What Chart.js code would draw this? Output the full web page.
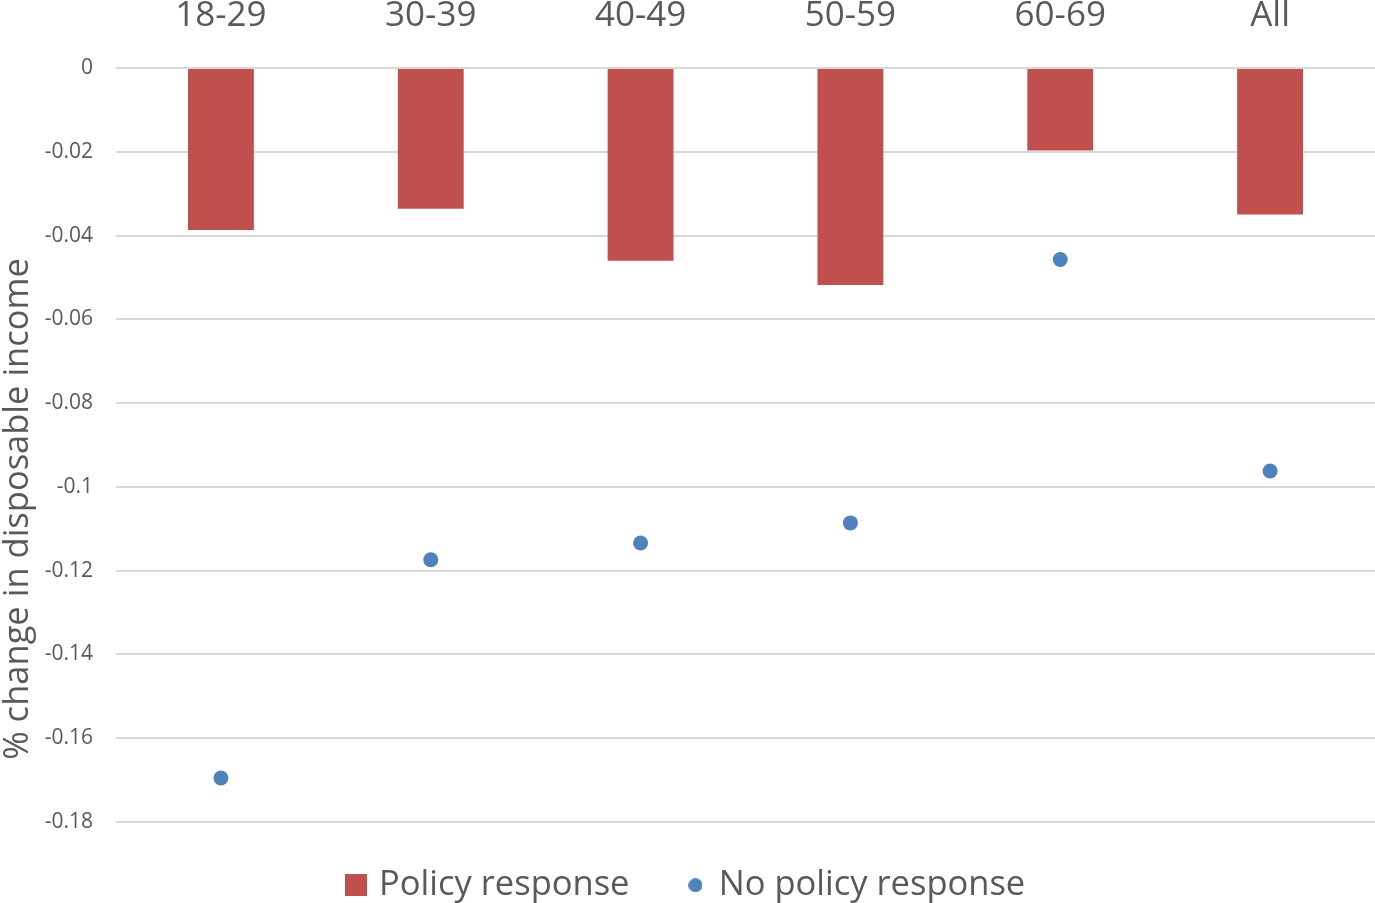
<!DOCTYPE html>
<html>
<head>
<meta charset="utf-8">
<script src="https://cdn.jsdelivr.net/npm/chart.js@4.4.1/dist/chart.umd.min.js"></script>
<style>
  html, body { margin: 0; padding: 0; background: #ffffff; overflow: hidden; }
  #wrap { width: 1375px; height: 903px; }
</style>
</head>
<body>
<div id="wrap"><canvas id="chart" width="1375" height="903"></canvas></div>
<script>
// Age groups and change in disposable income, as fractions
const ageGroups = ['18-29', '30-39', '40-49', '50-59', '60-69', 'All'];
const policyResponse = [-0.0387, -0.0336, -0.0460, -0.0518, -0.0197, -0.0350];
const noPolicyResponse = [-0.1695, -0.1174, -0.1134, -0.1086, -0.0457, -0.0962];
const seriesNames = ['Policy response', 'No policy response'];
const axisTitle = '% change in disposable income';

const TEXT = '#595959';
const FONT = "'Open Sans', 'DejaVu Sans', sans-serif";
const RED = '#C0504D';
const BLUE = '#4F81BD';

// small legend markers: a square for the bars, a dot for the points
function marker(kind, size, color) {
  const c = document.createElement('canvas');
  c.width = size; c.height = size;
  const g = c.getContext('2d');
  g.fillStyle = color;
  if (kind === 'rect') {
    g.fillRect(0, 0, size, size);
  } else {
    g.beginPath();
    g.arc(size / 2, size / 2, size / 2, 0, Math.PI * 2);
    g.fill();
  }
  return c;
}
const squareMarker = marker('rect', 22, RED);
const dotMarker = marker('circle', 14, BLUE);

// rotated y-axis title, placed a bit below the plot's middle
const sideTitle = {
  id: 'sideTitle',
  afterDraw(chart) {
    const ctx = chart.ctx;
    ctx.save();
    ctx.translate(18, 509);
    ctx.rotate(-Math.PI / 2);
    ctx.font = '34.5px ' + FONT;
    ctx.fillStyle = TEXT;
    ctx.textAlign = 'center';
    ctx.textBaseline = 'middle';
    ctx.fillText(axisTitle, 0, 0);
    ctx.restore();
  }
};

// keep the legend strip short and lift its row a little
const legendStrip = {
  id: 'legendStrip',
  afterInit(chart) {
    const lg = chart.legend;
    if (!lg) return;
    const fit = lg.fit;
    lg.fit = function () {
      fit.call(this);
      this.height = 81;
    };
    const draw = lg.draw;
    lg.draw = function () {
      const top = this.top;
      this.top = top - 14;
      draw.call(this);
      this.top = top;
    };
  }
};

new Chart(document.getElementById('chart'), {
  data: {
    labels: ageGroups,
    datasets: [
      {
        type: 'bar',
        label: seriesNames[0],
        data: policyResponse,
        backgroundColor: RED,
        borderWidth: 0,
        barPercentage: 0.314,
        categoryPercentage: 1.0,
        order: 2
      },
      {
        type: 'line',
        label: seriesNames[1],
        data: noPolicyResponse,
        showLine: false,
        backgroundColor: BLUE,
        borderColor: BLUE,
        pointRadius: 7.5,
        pointHoverRadius: 7.5,
        pointBorderWidth: 0,
        pointStyle: 'circle',
        clip: false,
        order: 1
      }
    ]
  },
  options: {
    responsive: false,
    animation: false,
    devicePixelRatio: 1,
    layout: { padding: 0, autoPadding: false },
    scales: {
      x: {
        position: 'top',
        grid: { display: false, drawTicks: false },
        border: { display: false },
        ticks: {
          color: TEXT,
          font: { family: FONT, size: 35 },
          padding: 31,
          maxRotation: 0
        },
        afterFit(scale) {
          scale.height = 68;
          scale.paddingLeft = 0;
          scale.paddingRight = 0;
        }
      },
      y: {
        min: -0.18,
        max: 0,
        grid: { color: '#d9d9d9', lineWidth: 2, drawTicks: false },
        border: { display: false },
        ticks: {
          stepSize: 0.02,
          color: TEXT,
          font: { family: FONT, size: 21 },
          padding: 23,
          callback: v => (Math.abs(v) < 1e-9 ? '0' : String(+v.toFixed(2)))
        },
        afterFit(scale) {
          scale.width = 116;
          scale.paddingTop = 0;
          scale.paddingBottom = 0;
        }
      }
    },
    plugins: {
      legend: {
        position: 'bottom',
        labels: {
          color: TEXT,
          font: { family: FONT, size: 34.5 },
          usePointStyle: true,
          pointStyleWidth: 12,
          padding: 60,
          generateLabels(chart) {
            return chart.data.datasets.map((ds, i) => ({
              text: ds.label,
              pointStyle: i === 0 ? squareMarker : dotMarker,
              fillStyle: ds.backgroundColor,
              strokeStyle: ds.backgroundColor,
              lineWidth: 0,
              hidden: false,
              datasetIndex: i,
              fontColor: TEXT
            }));
          }
        }
      },
      tooltip: { enabled: false }
    }
  },
  plugins: [sideTitle, legendStrip]
});
</script>
</body>
</html>
